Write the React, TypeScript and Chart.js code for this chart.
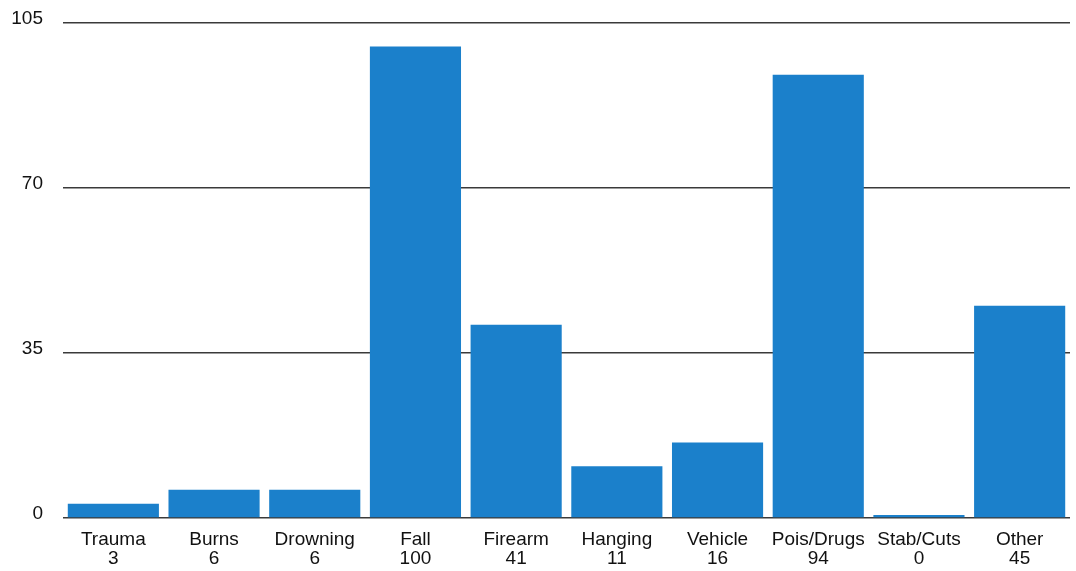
import React, { useEffect, useRef } from "react";
import { Chart, registerables } from "chart.js";

Chart.register(...registerables);

const categories = ["Trauma", "Burns", "Drowning", "Fall", "Firearm", "Hanging", "Vehicle", "Pois/Drugs", "Stab/Cuts", "Other"];
const counts = [3, 6, 6, 100, 41, 11, 16, 94, 0, 45];
const yTicks = [0, 35, 70, 105];

export default function App() {
  const ref = useRef<HTMLCanvasElement | null>(null);
  useEffect(() => {
    if (!ref.current) return;
    const labels = categories.map((c, i) => [c, String(counts[i])]);
    const chart = new Chart(ref.current, {
      type: "bar",
      data: {
        labels,
        datasets: [
          {
            data: counts,
            backgroundColor: "#1b80cb",
            borderWidth: 0,
            barPercentage: 0.905,
            categoryPercentage: 1,
            minBarLength: 3,
          },
        ],
      },
      options: {
        animation: false,
        responsive: false,
        maintainAspectRatio: false,
        layout: { padding: { left: 0, right: 6, top: 23, bottom: 0 } },
        plugins: { legend: { display: false }, tooltip: { enabled: false } },
        scales: {
          x: {
            grid: { display: false, drawTicks: false },
            border: { display: false },
            ticks: {
              color: "#111",
              font: { family: "Liberation Sans, Arial, sans-serif", size: 19, lineHeight: 1.0 },
              padding: 12,
              maxRotation: 0,
              autoSkip: false,
            },
            afterFit: (axis: any) => {
              axis.height = 53;
              axis.paddingLeft = 0;
              axis.paddingRight = 0;
            },
          },
          y: {
            min: 0,
            max: 105,
            afterBuildTicks: (axis: any) => {
              axis.ticks = yTicks.map((v) => ({ value: v }));
            },
            grid: { color: "#3a3a3a", lineWidth: 1.5, drawTicks: false },
            border: { display: false },
            ticks: {
              color: "#111",
              font: { family: "Liberation Sans, Arial, sans-serif", size: 19 },
              padding: 20,
              labelOffset: -4,
            },
            afterFit: (axis: any) => {
              axis.width = 63;
              axis.paddingTop = 0;
              axis.paddingBottom = 0;
            },
          },
        },
      },
    });
    return () => chart.destroy();
  }, []);
  return (
    <div style={{ position: "fixed", left: 0, top: 0, width: 1076, height: 571, background: "#fff" }}>
      <canvas ref={ref} width={1076} height={571} style={{ width: 1076, height: 571, display: "block" }} />
    </div>
  );
}
